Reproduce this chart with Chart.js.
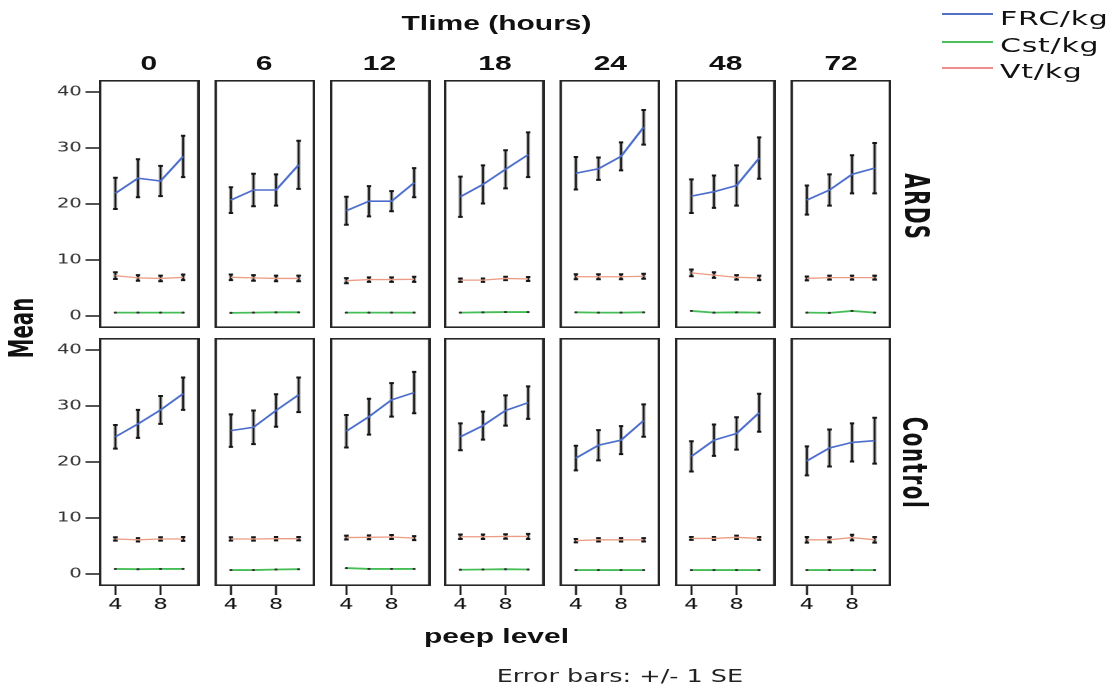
<!DOCTYPE html>
<html>
<head>
<meta charset="utf-8">
<title>FRC, Cst and Vt by PEEP level</title>
<script src="https://cdn.jsdelivr.net/npm/chart.js@4.4.1/dist/chart.umd.min.js"></script>
<style>
  html, body { margin: 0; padding: 0; background: #fff; overflow: hidden; }
  /* the figure is laid out narrow and stretched sideways */
  #figure { position: absolute; left: 0; top: 0; width: 745.33px; height: 688px;
            transform: scaleX(1.5); transform-origin: 0 0; }
  #figure canvas { position: absolute; }
  .lbl { position: absolute; white-space: nowrap; line-height: 1; color: #111;
         transform: translate(-50%, -50%); }
  .bold { font-family: 'Liberation Sans', Arial, sans-serif; font-weight: bold; font-size: 20px; }
  .strip { font-family: 'Liberation Sans Narrow', 'DejaVu Sans Condensed', sans-serif;
           font-weight: bold; font-size: 22px; }
  .note { font-family: 'DejaVu Sans', sans-serif; font-size: 17px; color: #222; }
  .key { position: absolute; height: 2px; width: 34px; left: 627.8px; }
  .keytext { position: absolute; left: 666.7px; font-family: 'DejaVu Sans', sans-serif;
             font-size: 20px; letter-spacing: 0.5px; line-height: 1; color: #111;
             transform: translateY(-50%); white-space: nowrap; }
</style>
</head>
<body>
<div id="figure">
  <div class="lbl bold" style="left:331px; top:22.5px;">Tlime (hours)</div>
  <div class="lbl strip" style="left:14.5px; top:328px; transform:translate(-50%,-50%) rotate(-90deg);">Mean</div>
  <div class="lbl strip" style="left:610px; top:207px; letter-spacing:1.5px; transform:translate(-50%,-50%) rotate(90deg);">ARDS</div>
  <div class="lbl strip" style="left:609px; top:463px; letter-spacing:1.5px; transform:translate(-50%,-50%) rotate(90deg);">Control</div>
  <div class="lbl bold" style="left:331px; top:636px;">peep level</div>
  <div class="lbl note" style="left:413.3px; top:675.5px;">Error bars: +/- 1 SE</div>

  <div class="key" style="top:13px; background:#5470c6;"></div>
  <div class="keytext" style="top:18.3px;">FRC/kg</div>
  <div class="key" style="top:40.7px; background:#4cbf5a;"></div>
  <div class="keytext" style="top:44.7px;">Cst/kg</div>
  <div class="key" style="top:67.3px; background:#f08c8c;"></div>
  <div class="keytext" style="top:70.8px;">Vt/kg</div>
</div>

<script>
// peep levels on the x axis and the panel strips
const peep = [4, 6, 8, 10];
const peepTicks = [4, 8];
const meanTicks = [0, 10, 20, 30, 40];
const hours = ['0', '6', '12', '18', '24', '48', '72'];
const groups = ['ARDS', 'Control'];

// FRC/kg means and standard errors, one row per time point
const frcArds = [
  [21.9, 24.6, 24.1, 28.5],
  [20.7, 22.5, 22.5, 27.0],
  [18.8, 20.5, 20.5, 23.8],
  [21.3, 23.5, 26.2, 28.8],
  [25.5, 26.3, 28.5, 33.7],
  [21.4, 22.2, 23.3, 28.2],
  [20.7, 22.5, 25.3, 26.4]
];
const frcArdsSe = [
  [2.8, 3.4, 2.7, 3.7],
  [2.3, 2.9, 2.8, 4.3],
  [2.5, 2.7, 1.8, 2.6],
  [3.6, 3.4, 3.4, 4.0],
  [2.9, 2.0, 2.5, 3.1],
  [3.0, 2.9, 3.6, 3.7],
  [2.6, 2.8, 3.4, 4.5]
];
const frcControl = [
  [24.5, 26.8, 29.3, 32.2],
  [25.6, 26.2, 29.2, 32.0],
  [25.5, 28.1, 31.1, 32.4],
  [24.5, 26.5, 29.2, 30.6],
  [20.7, 23.0, 23.9, 27.4],
  [21.0, 23.9, 25.1, 28.8],
  [20.2, 22.5, 23.5, 23.8]
];
const frcControlSe = [
  [2.1, 2.5, 2.5, 2.9],
  [2.9, 3.0, 2.9, 3.1],
  [2.9, 3.2, 3.0, 3.7],
  [2.4, 2.5, 2.7, 2.9],
  [2.2, 2.7, 2.5, 2.9],
  [2.7, 2.8, 2.9, 3.4],
  [2.6, 3.3, 3.4, 4.1]
];

// Vt/kg means and standard errors
const vtArds = [
  [7.2, 6.8, 6.7, 6.9],
  [6.9, 6.8, 6.7, 6.7],
  [6.3, 6.5, 6.5, 6.55],
  [6.4, 6.4, 6.7, 6.6],
  [7.0, 7.0, 7.0, 7.1],
  [7.7, 7.3, 6.9, 6.8],
  [6.7, 6.85, 6.85, 6.85]
];
const vtArdsSe = [
  [0.6, 0.5, 0.5, 0.5],
  [0.5, 0.5, 0.5, 0.5],
  [0.45, 0.4, 0.4, 0.45],
  [0.3, 0.3, 0.3, 0.35],
  [0.45, 0.45, 0.45, 0.45],
  [0.6, 0.5, 0.4, 0.4],
  [0.35, 0.35, 0.35, 0.35]
];
const vtControl = [
  [6.25, 6.1, 6.25, 6.25],
  [6.25, 6.25, 6.3, 6.3],
  [6.5, 6.55, 6.6, 6.4],
  [6.65, 6.65, 6.7, 6.7],
  [5.95, 6.1, 6.1, 6.1],
  [6.35, 6.35, 6.55, 6.35],
  [6.1, 6.1, 6.5, 6.1]
];
const vtControlSe = [
  [0.3, 0.3, 0.3, 0.35],
  [0.3, 0.3, 0.3, 0.3],
  [0.35, 0.35, 0.35, 0.35],
  [0.4, 0.4, 0.4, 0.45],
  [0.3, 0.3, 0.3, 0.3],
  [0.25, 0.25, 0.3, 0.25],
  [0.5, 0.45, 0.5, 0.5]
];

// Cst/kg means
const cstArds = [
  [0.6, 0.6, 0.6, 0.6],
  [0.55, 0.6, 0.65, 0.65],
  [0.6, 0.6, 0.6, 0.6],
  [0.6, 0.65, 0.7, 0.7],
  [0.65, 0.6, 0.6, 0.65],
  [0.9, 0.6, 0.65, 0.6],
  [0.6, 0.55, 0.9, 0.6]
];
const cstControl = [
  [0.9, 0.85, 0.9, 0.9],
  [0.7, 0.7, 0.8, 0.85],
  [1.05, 0.9, 0.9, 0.9],
  [0.75, 0.8, 0.85, 0.8],
  [0.7, 0.7, 0.7, 0.7],
  [0.7, 0.7, 0.7, 0.7],
  [0.7, 0.7, 0.7, 0.7]
];

const frc = [frcArds, frcControl];
const frcSe = [frcArdsSe, frcControlSe];
const vt = [vtArds, vtControl];
const vtSe = [vtArdsSe, vtControlSe];
const cst = [cstArds, cstControl];

// panel grid (pre-stretch units)
const colLeft0 = 65.67, colPitch = 76.93, panelW = 67, panelH = 248;
const rowTop = [80, 337.5];
const yAxisW = 32, xAxisH = 30;

const errorBars = {
  id: 'errorBars',
  beforeDatasetsDraw(chart) {
    const ctx = chart.ctx, xs = chart.scales.x, ys = chart.scales.y;
    ctx.save();
    chart.data.datasets.forEach(ds => {
      if (!ds.se) return;
      ds.data.forEach((pt, i) => {
        const px = xs.getPixelForValue(pt.x);
        const top = ys.getPixelForValue(pt.y + ds.se[i]);
        const bot = ys.getPixelForValue(pt.y - ds.se[i]);
        // grey halo, then the dark stem and caps
        ctx.strokeStyle = '#9a9a9a';
        ctx.lineWidth = 2.4;
        ctx.beginPath(); ctx.moveTo(px, top); ctx.lineTo(px, bot); ctx.stroke();
        ctx.strokeStyle = '#151515';
        ctx.lineWidth = 1.1;
        ctx.beginPath(); ctx.moveTo(px, top); ctx.lineTo(px, bot); ctx.stroke();
        ctx.lineWidth = 2;
        ctx.beginPath();
        ctx.moveTo(px - 1.5, top); ctx.lineTo(px + 1.5, top);
        ctx.moveTo(px - 1.5, bot); ctx.lineTo(px + 1.5, bot);
        ctx.stroke();
      });
    });
    ctx.restore();
  }
};

const frame = {
  id: 'frame',
  afterDraw(chart) {
    const a = chart.chartArea, ctx = chart.ctx;
    ctx.save();
    ctx.strokeStyle = '#262626';
    ctx.lineWidth = 1.6;
    ctx.strokeRect(a.left + 0.8, a.top + 0.8, a.right - a.left - 1.6, a.bottom - a.top - 1.6);
    ctx.restore();
  }
};

function points(values) {
  return peep.map((p, i) => ({ x: p, y: values[i] }));
}

// keep tick labels from pulling the plot area inwards
function noLabelPadding(s) {
  s.paddingTop = 0;
  s.paddingBottom = 0;
  s.paddingLeft = 0;
  s.paddingRight = 0;
}

function buildPanel(row, col) {
  const fig = document.getElementById('figure');
  const padL = col === 0 ? yAxisW : 0;
  const padB = row === 1 ? xAxisH : 0;
  const canvas = document.createElement('canvas');
  canvas.style.left = (colLeft0 + colPitch * col - padL) + 'px';
  canvas.style.top = rowTop[row] + 'px';
  canvas.width = panelW + padL;
  canvas.height = panelH + padB;
  fig.appendChild(canvas);

  new Chart(canvas, {
    type: 'line',
    data: {
      datasets: [
        {
          label: 'Vt/kg', data: points(vt[row][col]), se: vtSe[row][col],
          borderColor: '#eb9c84', borderWidth: 1.3, pointRadius: 0
        },
        {
          label: 'Cst/kg', data: points(cst[row][col]),
          borderColor: '#45bf55', borderWidth: 1.8,
          pointRadius: 1.1, pointBackgroundColor: '#333', pointBorderWidth: 0
        },
        {
          label: 'FRC/kg', data: points(frc[row][col]), se: frcSe[row][col],
          borderColor: '#4c6dcb', borderWidth: 1.6, pointRadius: 0
        }
      ]
    },
    options: {
      responsive: false,
      animation: false,
      devicePixelRatio: 2,
      layout: { padding: 0, autoPadding: false },
      plugins: { legend: { display: false }, tooltip: { enabled: false } },
      scales: {
        x: {
          type: 'linear', min: 2.55, max: 11.45,
          display: row === 1,
          afterBuildTicks: s => { s.ticks = peepTicks.map(v => ({ value: v })); },
          afterFit: s => { if (s.options.display) s.height = xAxisH; noLabelPadding(s); },
          border: { display: false },
          grid: { drawOnChartArea: false, tickLength: 9, tickColor: '#1e1e1e', tickWidth: 1.4 },
          ticks: {
            autoSkip: false, maxRotation: 0, padding: 1,
            color: '#111', font: { family: 'DejaVu Sans', size: 15 }
          }
        },
        y: {
          min: -2.15, max: 42.15,
          display: col === 0,
          afterBuildTicks: s => { s.ticks = meanTicks.map(v => ({ value: v })); },
          afterFit: s => { if (s.options.display) s.width = yAxisW; noLabelPadding(s); },
          border: { display: false },
          grid: { drawOnChartArea: false, tickLength: 9, tickColor: '#2a2a2a', tickWidth: 1.6 },
          ticks: {
            padding: 2.5, color: '#333',
            font: { family: 'DejaVu Sans', size: 13 }
          }
        }
      }
    },
    plugins: [errorBars, frame]
  });
}

// column headings above the top row
hours.forEach((h, col) => {
  const d = document.createElement('div');
  d.className = 'lbl bold';
  d.style.left = (colLeft0 + colPitch * col + panelW / 2) + 'px';
  d.style.top = '62.5px';
  d.textContent = h;
  document.getElementById('figure').appendChild(d);
});

groups.forEach((g, row) => {
  hours.forEach((h, col) => buildPanel(row, col));
});
</script>
</body>
</html>
